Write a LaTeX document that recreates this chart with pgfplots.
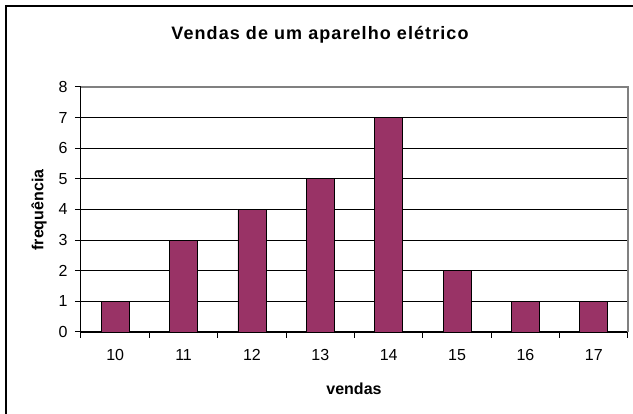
\documentclass[border=0pt]{standalone}
\usepackage{fontspec}
\setmainfont{Liberation Sans}
\usepackage{pgfplots}
\pgfplotsset{compat=1.18}
\definecolor{barc}{HTML}{993366}
\begin{document}
\begin{tikzpicture}[x=1pt,y=1pt]
\useasboundingbox (0,0) rectangle (633,414);
\draw[line width=1.3pt] (6,-10) -- (6,408) -- (650,408);
\node[font=\fontsize{18}{20}\selectfont\bfseries\addfontfeature{LetterSpace=6}] at (320,379) {Vendas de um aparelho elétrico};
\node[font=\fontsize{16}{18}\selectfont\bfseries] at (354,25) {vendas};
\node[font=\fontsize{16}{18}\selectfont\bfseries, rotate=90] at (39,204) {frequência};
\begin{axis}[
  at={(81pt,82pt)}, anchor=south west, scale only axis,
  width=547pt, height=245pt,
  xmin=9.5, xmax=17.5, ymin=0, ymax=8,
  axis lines=left, axis line style={-, black, line width=1pt},
  tick align=outside, major tick length=0pt, minor tick length=6pt,
  tick style={black, line width=1pt},
  ytick={0,...,8},
  minor ytick={0,...,8},
  xtick={10,...,17},
  minor xtick={9.5,10.5,...,17.5},
  xticklabel style={yshift=-14pt},
  yticklabel style={xshift=-10pt},
  /pgf/number format/assume math mode=true,
  ticklabel style={font=\fontsize{16}{18}\selectfont},
  ymajorgrids, grid style={black, line width=0.9pt},
  ybar, bar width=28pt,
  clip=false,
]
\addplot[fill=barc, draw=black, line width=0.8pt] coordinates {
  (10,1) (11,3) (12,4) (13,5) (14,7) (15,2) (16,1) (17,1)
};
\draw[gray, line width=1.2pt] (rel axis cs:0,1) -- (rel axis cs:1,1) -- (rel axis cs:1,0);
\end{axis}
\end{tikzpicture}
\end{document}
